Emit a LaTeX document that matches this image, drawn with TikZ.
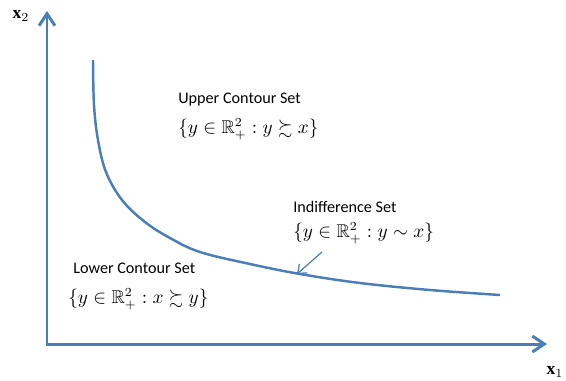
\documentclass[tikz,border=0pt]{standalone}
\usepackage{amsmath,amssymb}
\usepackage{fontspec}
\setmainfont{Carlito}
\newfontfamily\axfont{Liberation Serif}
\usetikzlibrary{arrows.meta,positioning}
\definecolor{axc}{HTML}{4A7EBB}
\tikzset{
  ax/.style={{Straight Barb[length=2.4mm,width=3.2mm]}-{Straight Barb[length=2.4mm,width=3.2mm]},line width=1.7pt,axc},
  crv/.style={line width=1.4pt,axc},
  ptr/.style={-{Straight Barb[length=1.5mm,width=2.4mm]},line width=0.7pt,axc},
  lbl/.style={anchor=west,inner sep=0pt,font=\fontsize{9.2}{11}\selectfont},
  setf/.style={anchor=west,inner sep=0pt,font=\fontsize{10.5}{12}\selectfont},
  axl/.style={inner sep=0pt,font=\axfont\fontsize{10}{12}\selectfont}
}

\begin{document}
\begin{tikzpicture}[x=0.02cm,y=-0.02cm]
\useasboundingbox (0,0) rectangle (566,380);
% axes
\coordinate (o) at (47,344);
\coordinate (ytop) at (47,11);
\coordinate (xend) at (547,344);
\draw[ax] (ytop) -- (o) -- (xend);
\node[axl] (xtwo) at (21,16) {\textbf{x}$_2$};
\node[axl] (xone) at (555,372) {\textbf{x}$_1$};
% indifference curve
\draw[crv] plot[smooth,tension=0.6] coordinates {(93,60) (94,105) (98,140) (106,172) (122,200) (145,222) (170,238) (200,252) (250,264) (300,274) (360,283) (430,290) (500,295)};
% labels
\node[lbl] (upt) at (178,100) {Upper Contour Set};
\node[setf] (upset) at (178,129) {$\{y\in\mathbb{R}^2_+ : y\succsim x\}$};
\node[lbl] (indt) at (293,207) {Indifference Set};
\node[setf] (indset) at (293,233) {$\{y\in\mathbb{R}^2_+ : y\sim x\}$};
\node[lbl] (lot) at (73,268) {Lower Contour Set};
\node[setf] (loset) at (68,299) {$\{y\in\mathbb{R}^2_+ : x\succsim y\}$};
% pointer
\coordinate (pst) at (322,252);
\coordinate (ptip) at (297,274);
\draw[ptr] (pst) -- (ptip);
\end{tikzpicture}
\end{document}
